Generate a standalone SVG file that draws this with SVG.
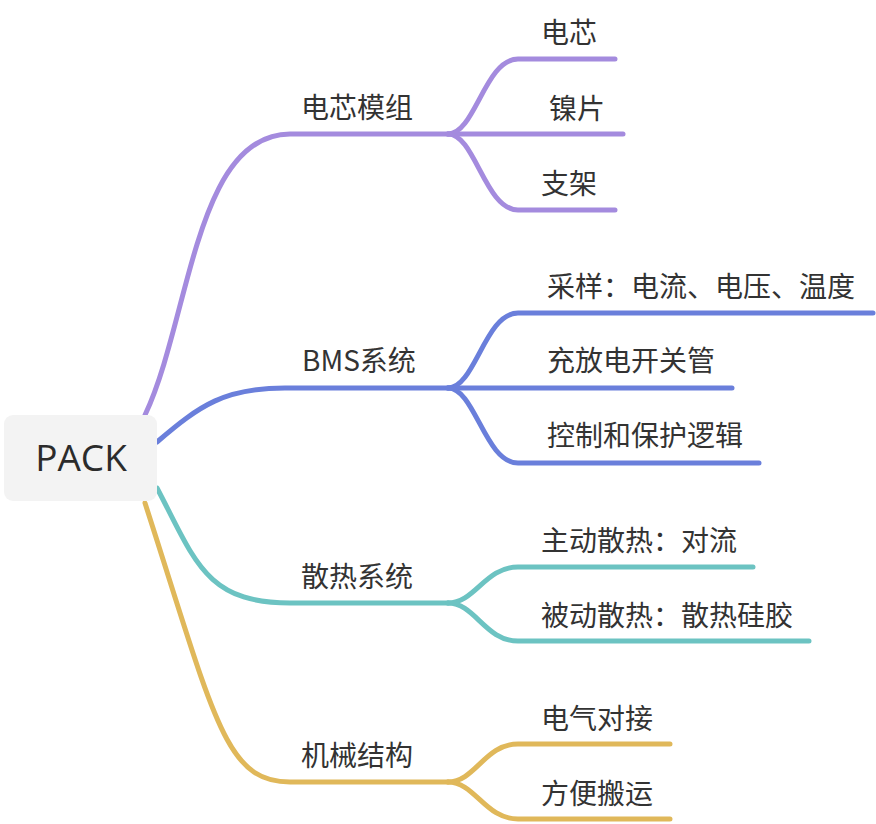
<svg xmlns="http://www.w3.org/2000/svg" width="876" height="824" viewBox="0 0 876 824">
<style>
.t{font-family:"Noto Sans CJK SC","Noto Sans",sans-serif;font-size:28px;fill:#333333}
.root{font-family:"Open Sans","Noto Sans",sans-serif;font-size:37px;fill:#2b2b2b}
.c{fill:none;stroke-width:5;stroke-linecap:round;stroke-linejoin:round}
.p{stroke:#A48BDE}.b{stroke:#6A7FDB}.g{stroke:#6CC3C2}.y{stroke:#E0B85A}
</style>
<rect width="876" height="824" fill="#ffffff"/>
<g id="connectors">
  <path class="c p" d="M145,415 C190,320 195,134 290,134 L448,134"/>
  <path class="c p" d="M448,134 C475,134 485,59 518,59 L615,59"/>
  <path class="c p" d="M448,134 L623,134"/>
  <path class="c p" d="M448,134 C475,134 485,210 518,210 L615,210"/>
  <path class="c b" d="M157,442 C200,405 225,388 285,388 L448,388"/>
  <path class="c b" d="M448,388 C475,388 485,313 518,313 L873,313"/>
  <path class="c b" d="M448,388 L732,388"/>
  <path class="c b" d="M448,388 C475,388 485,463 518,463 L759,463"/>
  <path class="c g" d="M157,488 C195,560 205,603 290,603 L448,603"/>
  <path class="c g" d="M448,603 C475,603 485,567 518,567 L753,567"/>
  <path class="c g" d="M448,603 C475,603 485,641 518,641 L809,641"/>
  <path class="c y" d="M145,503 C215,720 225,782 290,782 L448,782"/>
  <path class="c y" d="M448,782 C475,782 485,744 518,744 L670,744"/>
  <path class="c y" d="M448,782 C475,782 485,819 518,819 L670,819"/>
</g>
<g id="root">
  <rect x="4" y="415" width="153" height="86" rx="9" fill="#f3f3f3"/>
  <text class="root" x="81" y="471" text-anchor="middle">PACK</text>
</g>
<g id="n-module"><text class="t" x="301" y="118">电芯模组</text></g>
<g id="n-cell"><text class="t" x="541" y="43">电芯</text></g>
<g id="n-nickel"><text class="t" x="549" y="119">镍片</text></g>
<g id="n-bracket"><text class="t" x="541" y="194">支架</text></g>
<g id="n-bms"><text class="t" x="302" y="371">BMS系统</text></g>
<g id="n-sample"><text class="t" x="547" y="297">采样：电流、电压、温度</text></g>
<g id="n-switch"><text class="t" x="547" y="371">充放电开关管</text></g>
<g id="n-logic"><text class="t" x="547" y="446">控制和保护逻辑</text></g>
<g id="n-thermal"><text class="t" x="301" y="587">散热系统</text></g>
<g id="n-active"><text class="t" x="541" y="551">主动散热：对流</text></g>
<g id="n-passive"><text class="t" x="541" y="626">被动散热：散热硅胶</text></g>
<g id="n-mech"><text class="t" x="301" y="766">机械结构</text></g>
<g id="n-elec"><text class="t" x="541" y="729">电气对接</text></g>
<g id="n-carry"><text class="t" x="541" y="804">方便搬运</text></g>
</svg>
